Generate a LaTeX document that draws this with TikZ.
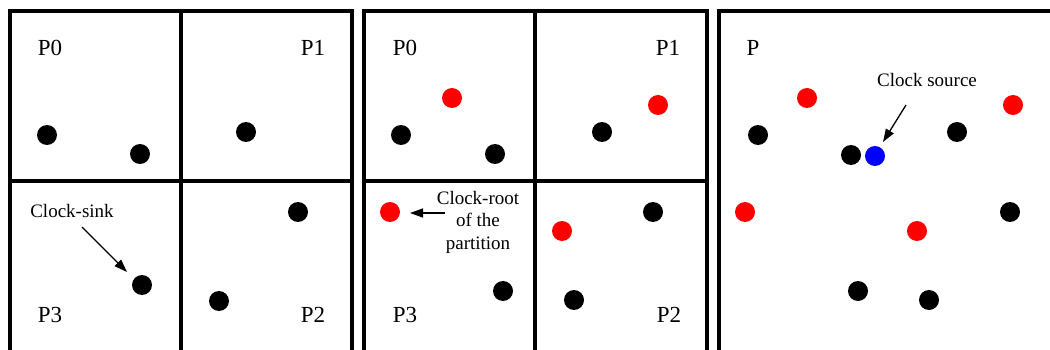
\documentclass[tikz,border=0pt]{standalone}
\usepackage{fontspec}
\setmainfont{Liberation Serif}
\usetikzlibrary{arrows.meta}
\begin{document}
\begin{tikzpicture}[x=1pt,y=-1pt,
  frame/.style={line width=3.5pt,line join=miter},
  dot/.style={circle,fill=black,inner sep=0pt,minimum size=20pt},
  rdot/.style={dot,fill=red},
  bdot/.style={dot,fill=blue},
  plabel/.style={font=\fontsize{23}{24}\selectfont,inner sep=0pt},
  note/.style={font=\fontsize{19}{22.5}\selectfont,inner sep=0pt,align=center},
  pointer/.style={line width=1.3pt,-{Triangle[length=13pt,width=9pt]}}]
\useasboundingbox (0,0) rectangle (1050,350);
\begin{scope}
\clip (0,0) rectangle (1050,350);
% panel 1
\draw[frame] (10,11) rectangle (352,370);
\draw[frame] (181,11) -- (181,370);
\draw[frame] (10,181) -- (352,181);
% panel 2
\draw[frame] (364,11) rectangle (707,370);
\draw[frame] (535,11) -- (535,370);
\draw[frame] (364,181) -- (707,181);
% panel 3
\draw[frame] (719,11) rectangle (1070,370);
\end{scope}
% labels panel 1
\node[plabel] (a0) at (50,48) {P0};
\node[plabel] (a1) at (313,48) {P1};
\node[plabel] (a3) at (50,315) {P3};
\node[plabel] (a2) at (313,315) {P2};
% labels panel 2
\node[plabel] (b0) at (405,48) {P0};
\node[plabel] (b1) at (668,48) {P1};
\node[plabel] (b3) at (405,315) {P3};
\node[plabel] (b2) at (669,315) {P2};
% label panel 3
\node[plabel] (c0) at (753,48) {P};
% dots panel 1
\node[dot] (s1) at (47,135) {};
\node[dot] (s2) at (140,154) {};
\node[dot] (s3) at (246,132) {};
\node[dot] (s4) at (298,212) {};
\node[dot] (s5) at (142,285) {};
\node[dot] (s6) at (219,301) {};
% dots panel 2
\node[dot] (t1) at (401,135) {};
\node[dot] (t2) at (495,154) {};
\node[dot] (t3) at (602,132) {};
\node[dot] (t4) at (653,212) {};
\node[dot] (t5) at (503,291) {};
\node[dot] (t6) at (574,300) {};
\node[rdot] (r1) at (452,98) {};
\node[rdot] (r2) at (658,105) {};
\node[rdot] (r3) at (390,212) {};
\node[rdot] (r4) at (562,231) {};
% dots panel 3
\node[dot] (u1) at (758,135) {};
\node[dot] (u2) at (851,155) {};
\node[dot] (u3) at (957,132) {};
\node[dot] (u4) at (1010,212) {};
\node[dot] (u5) at (858,291) {};
\node[dot] (u6) at (929,300) {};
\node[rdot] (q1) at (807,98) {};
\node[rdot] (q2) at (1013,105) {};
\node[rdot] (q3) at (745,212) {};
\node[rdot] (q4) at (917,231) {};
\node[bdot] (src) at (875,156) {};
% annotations
\node[note] (sink) at (72,211) {Clock-sink};
\coordinate (sinkfrom) at (82,227);
\coordinate (sinkto) at (127,272);
\draw[pointer] (sinkfrom) -- (sinkto);
\node[note] (root) at (478,222) {Clock-root\\of the\\partition};
\coordinate (rootfrom) at (445,213);
\coordinate (rootto) at (410,213);
\draw[pointer] (rootfrom) -- (rootto);
\node[note] (srclab) at (927,80) {Clock source};
\coordinate (srcfrom) at (906,105);
\coordinate (srcto) at (883,142);
\draw[pointer] (srcfrom) -- (srcto);
\end{tikzpicture}
\end{document}
